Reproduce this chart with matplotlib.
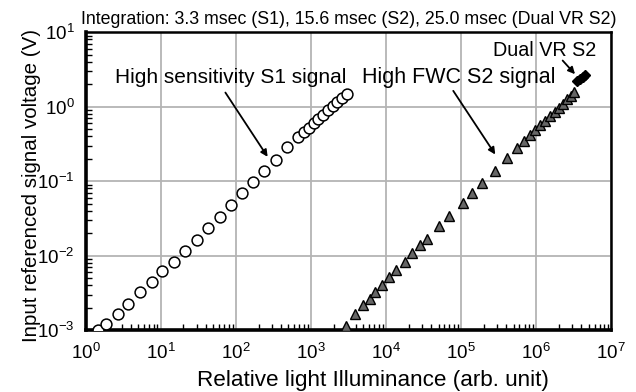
import matplotlib
matplotlib.use("Agg")
import matplotlib.pyplot as plt
from matplotlib.ticker import LogLocator, NullFormatter

plt.rcParams['font.family'] = ['Liberation Sans', 'DejaVu Sans']
plt.rcParams['mathtext.default'] = 'regular'

# High sensitivity S1 signal
s1_x = [1.46, 1.85, 2.64, 3.67, 5.3, 7.5, 10.5, 14.9, 21.1, 30.5, 42.8, 60.5, 85,
        121, 170, 238, 338, 474, 678, 800, 930, 1080, 1250, 1450, 1680, 1950,
        2250, 2600, 2990]
s1_y = [0.001, 0.00119, 0.00164, 0.00221, 0.00327, 0.00437, 0.0062, 0.0082, 0.0114,
        0.0163, 0.0236, 0.0332, 0.0472, 0.0684, 0.098, 0.137, 0.195, 0.283, 0.393,
        0.45, 0.52, 0.60, 0.68, 0.78, 0.89, 1.02, 1.16, 1.31, 1.47]

# High FWC S2 signal
s2_x = [2900, 3860, 4980, 6070, 7070, 8850, 11070, 13600, 17700, 22200, 28400, 34900,
        51400, 69800, 105000, 140000, 189000, 281000, 406000, 553000, 692000, 832000,
        970000, 1130000, 1318000, 1538000, 1792000, 2046000, 2312000, 2614000,
        2930000, 3213000]
s2_y = [0.00113, 0.00164, 0.00217, 0.00263, 0.00324, 0.00398, 0.00519, 0.00638, 0.00826,
        0.0108, 0.0138, 0.0165, 0.0249, 0.0339, 0.0512, 0.0684, 0.0931, 0.137, 0.204,
        0.275, 0.344, 0.414, 0.484, 0.565, 0.645, 0.745, 0.851, 0.963, 1.10, 1.25,
        1.41, 1.57]

# Dual VR S2
dvr_x = [3.52e6, 3.86e6, 4.23e6, 4.5e6]
dvr_y = [2.20, 2.34, 2.49, 2.65]

fig = plt.figure(figsize=(6.36, 3.92), dpi=100)
ax = fig.add_axes([0.135, 0.158, 0.826, 0.760])

ax.set_xscale('log')
ax.set_yscale('log')
ax.set_xlim(1, 1e7)
ax.set_ylim(1e-3, 10)

ax.grid(True, which='major', color='#b4b4b4', linewidth=1.3)
ax.set_axisbelow(True)

ax.plot(s1_x, s1_y, 'o', mfc='white', mec='black', mew=1.1, ms=7.8, zorder=3)
ax.plot(s2_x, s2_y, '^', mfc='#666666', mec='black', mew=1.0, ms=7.8, zorder=3)
ax.plot(dvr_x, dvr_y, 'D', mfc='black', mec='black', ms=5, zorder=4)

for s in ax.spines.values():
    s.set_linewidth(1.8)
ax.spines['left'].set_linewidth(2.6)
ax.spines['bottom'].set_linewidth(2.6)

ax.xaxis.set_minor_locator(LogLocator(base=10, subs=range(2, 10), numticks=20))
ax.yaxis.set_minor_locator(LogLocator(base=10, subs=range(2, 10), numticks=20))
ax.xaxis.set_minor_formatter(NullFormatter())
ax.yaxis.set_minor_formatter(NullFormatter())
ax.tick_params(which='major', direction='in', length=0, labelsize=13.5)
ax.tick_params(which='minor', direction='in', length=4, width=1)
ax.tick_params(axis='x', which='major', pad=9)
ax.tick_params(axis='y', which='major', pad=8)

ax.set_xlabel('Relative light Illuminance (arb. unit)', fontsize=16.2)
ax.xaxis.label.set_va('center')
ax.xaxis.set_label_coords(0.547, -0.168)
ax.set_ylabel('Input referenced signal voltage (V)', fontsize=14.8)
ax.yaxis.label.set_va('center')
ax.yaxis.set_label_coords(-0.104, 0.485)
ax.set_title('Integration: 3.3 msec (S1), 15.6 msec (S2), 25.0 msec (Dual VR S2)',
             fontsize=12.8, pad=6)

arrow = dict(arrowstyle='-|>', color='black', lw=1.3, mutation_scale=10)
ax.text(2.44, 2.49, 'High sensitivity S1 signal', fontsize=15, ha='left', va='center')
ax.annotate('', xy=(277, 0.197), xytext=(69, 1.66), arrowprops=arrow)
ax.text(4790, 2.49, 'High FWC S2 signal', fontsize=15.5, ha='left', va='center')
ax.annotate('', xy=(2.99e5, 0.212), xytext=(7.5e4, 1.75), arrowprops=arrow)
ax.text(2.65e5, 5.73, 'Dual VR S2', fontsize=14.2, ha='left', va='center')
ax.annotate('', xy=(3.49e6, 2.56), xytext=(2.13e6, 4.43), arrowprops=arrow)

fig.savefig('out.png', dpi=100)
